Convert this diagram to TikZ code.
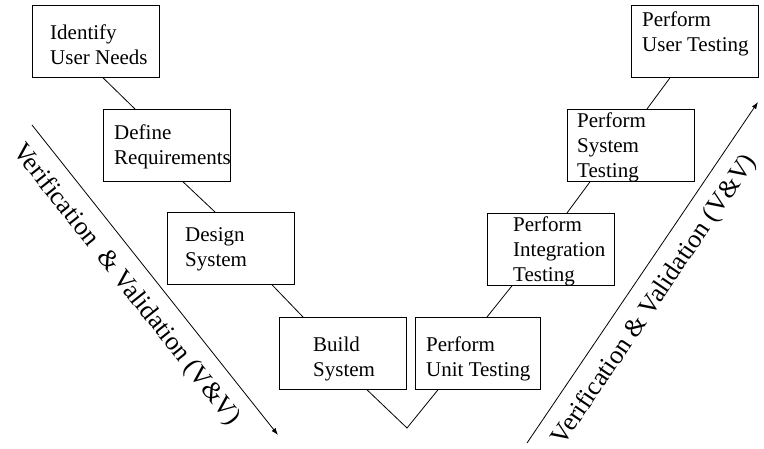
\documentclass[tikz,border=0pt]{standalone}
\usepackage{fontspec}
\setmainfont{Liberation Serif}
\usetikzlibrary{arrows.meta}
\tikzset{
  stage box/.style={draw, line width=0.8pt, anchor=north west, minimum width=127pt, minimum height=72pt, inner sep=0pt},
  stage text/.style={anchor=north west, align=left, inner sep=0pt, font=\fontsize{21}{25}\selectfont},
  link/.style={line width=0.8pt},
  vv arrow/.style={line width=0.8pt, -{Latex[length=7pt,width=5pt]}},
  vv label/.style={inner sep=0pt, font=\fontsize{26}{30}\selectfont},
}

\begin{document}
\begin{tikzpicture}[x=1pt, y=-1pt]
  \useasboundingbox (0,0) rectangle (764,449);
  % left branch of the V
  \node[stage box] (idn) at (32,5)    {};
  \node[stage box] (req) at (103,109) {};
  \node[stage box] (des) at (167,212) {};
  \node[stage box] (bld) at (279,317) {};
  % right branch of the V
  \node[stage box, minimum width=125pt] (unt) at (415,317) {};
  \node[stage box] (int) at (487,213) {};
  \node[stage box] (sys) at (567,109) {};
  \node[stage box] (usr) at (631,5)   {};
  \node[stage text] (idn-t) at ([shift={(18pt,-20pt)}]idn.north west) {Identify\\User Needs};
  \node[stage text] (req-t) at ([shift={(11pt,-16pt)}]req.north west) {Define\\Requirements};
  \node[stage text] (des-t) at ([shift={(18pt,-15pt)}]des.north west) {Design\\System};
  \node[stage text] (bld-t) at ([shift={(34pt,-20pt)}]bld.north west) {Build\\System};
  \node[stage text] (unt-t) at ([shift={(11pt,-20pt)}]unt.north west) {Perform\\Unit Testing};
  \node[stage text] (int-t) at ([shift={(26pt,-4pt)}]int.north west)  {Perform\\Integration\\Testing};
  \node[stage text] (sys-t) at ([shift={(10pt,-4pt)}]sys.north west)  {Perform\\System\\Testing};
  \node[stage text] (usr-t) at ([shift={(11pt,-7pt)}]usr.north west)  {Perform\\User Testing};
  \coordinate (vtip) at (407,428);
  \draw[link] ([xshift=71pt]idn.south west) -- ([xshift=32pt]req.north west);
  \draw[link] ([xshift=80pt]req.south west) -- ([xshift=48pt]des.north west);
  \draw[link] ([xshift=105pt]des.south west) -- ([xshift=24pt]bld.north west);
  \draw[link] ([xshift=88pt]bld.south west) -- (vtip) -- ([xshift=23pt]unt.south west);
  \draw[link] ([xshift=72pt]unt.north west) -- ([xshift=25pt]int.south west);
  \draw[link] ([xshift=80pt]int.north west) -- ([xshift=23pt]sys.south west);
  \draw[link] ([xshift=80pt]sys.north west) -- ([xshift=39pt]usr.south west);
  % V&V arrows
  \coordinate (la-s) at (32,125);  \coordinate (la-e) at (278,435);
  \coordinate (ra-s) at (527,443); \coordinate (ra-e) at (758,102);
  \draw[vv arrow] (la-s) -- (la-e);
  \draw[vv arrow] (ra-s) -- (ra-e);
  \node[vv label, rotate=-51.6] (lvv) at (126,285) {Verification\ \ \& Validation (V\&V)};
  \node[vv label, rotate=55.9]  (rvv) at (655,300) {Verification \& Validation (V\&V)};
\end{tikzpicture}
\end{document}
